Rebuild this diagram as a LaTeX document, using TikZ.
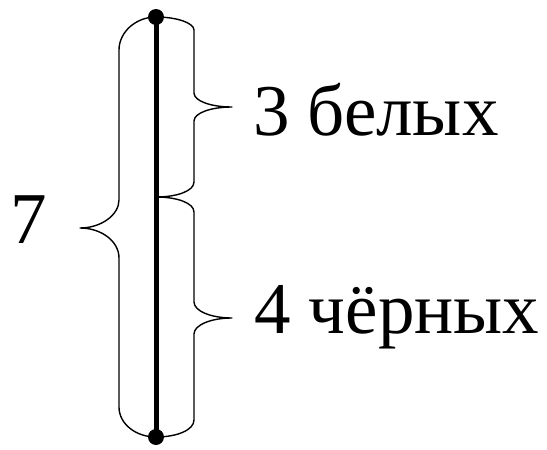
\documentclass[tikz,border=0pt]{standalone}
\usepackage{fontspec}
\setmainfont{Liberation Serif}
\begin{document}
\begin{tikzpicture}[x=1pt,y=-1pt,
  bracestyle/.style={line width=1.4pt, line join=round},
  lbl/.style={anchor=base west, inner sep=0pt, font=\fontsize{73}{80}\selectfont},
  dotstyle/.style={circle, fill=black, inner sep=0pt, minimum size=16pt}]
\useasboundingbox (0,0) rectangle (547,450);
\coordinate (top) at (156,17);
\coordinate (mid) at (156,197);
\coordinate (bot) at (156,437);
% left brace
\draw[bracestyle] (top) .. controls (136,17) and (119,32) .. (119,50)
  -- (119,200) .. controls (119,215) and (101,228) .. (80,228)
  .. controls (101,228) and (119,241) .. (119,258)
  -- (119,407) .. controls (119,424) and (136,437) .. (bot);
% top right brace
\draw[bracestyle] (top) .. controls (177,17) and (194,23) .. (194,30)
  -- (194,93) .. controls (194,101) and (211,107) .. (232,107)
  .. controls (211,107) and (194,113) .. (194,121)
  -- (194,182) .. controls (194,191) and (177,197) .. (mid);
% bottom right brace
\draw[bracestyle] (mid) .. controls (177,197) and (194,203) .. (194,212)
  -- (194,302) .. controls (194,311) and (211,318) .. (232,318)
  .. controls (211,318) and (194,325) .. (194,334)
  -- (194,420) .. controls (194,430) and (177,437) .. (bot);
% main segment
\draw[line width=5pt] (top) -- (bot);
\node[dotstyle] (dtop) at (top) {};
\node[dotstyle] (dbot) at (bot) {};
% labels
\node[lbl] (seven) at (10,243) {7};
\node[lbl] (white) at (253,135) {3 белых};
\node[lbl] (black) at (254,333) {4 чёрных};
\end{tikzpicture}
\end{document}
